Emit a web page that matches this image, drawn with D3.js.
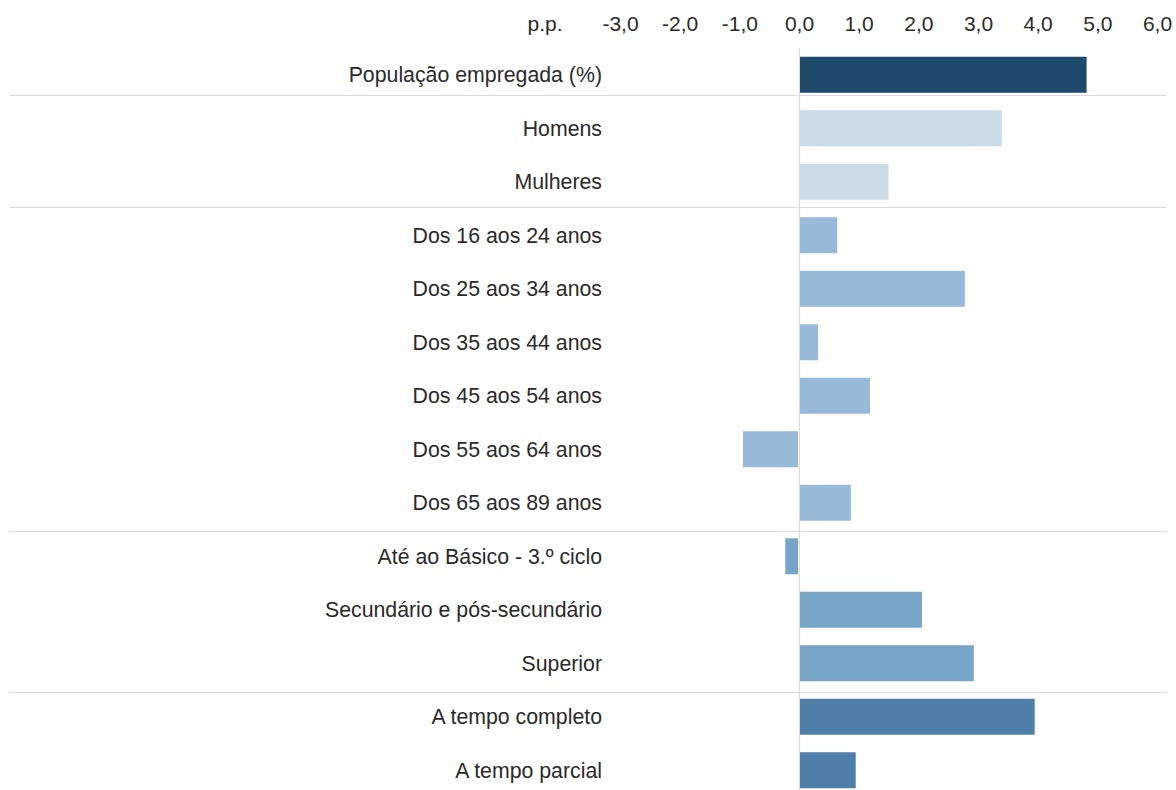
<!DOCTYPE html>
<html>
<head>
<meta charset="utf-8">
<script src="https://cdn.jsdelivr.net/npm/d3@7"></script>
<style>
  body { margin: 0; background: #fff; }
  svg { display: block; font-family: "Liberation Sans", Arial, sans-serif; }
</style>
</head>
<body>
<svg width="1176" height="790"></svg>
<script>
// Data
var categories = [
	"População empregada (%)",
	"Homens", "Mulheres",
	"Dos 16 aos 24 anos", "Dos 25 aos 34 anos", "Dos 35 aos 44 anos",
	"Dos 45 aos 54 anos", "Dos 55 aos 64 anos", "Dos 65 aos 89 anos",
	"Até ao Básico - 3.º ciclo", "Secundário e pós-secundário", "Superior",
	"A tempo completo", "A tempo parcial"
];
var values = [4.82, 3.4, 1.5, 0.64, 2.78, 0.32, 1.19, -0.94, 0.87, -0.23, 2.06, 2.93, 3.95, 0.95];
var groups = ["total", "sexo", "sexo", "idade", "idade", "idade", "idade", "idade", "idade",
	"escolaridade", "escolaridade", "escolaridade", "regime", "regime"];
var tickValues = [-3, -2, -1, 0, 1, 2, 3, 4, 5, 6];
var unitLabel = "p.p.";

var groupColor = {
	total: "#1e4a6b",
	sexo: "#cbdbe8",
	idade: "#98bad8",
	escolaridade: "#76a5c7",
	regime: "#4f7fa9"
};

// where each group separator sits inside the gap below the last bar of a group
var sepShift = [0.15, 0.42, 0.59, 0.63];

var svg = d3.select("svg"),
	w = +svg.attr("width"),
	h = +svg.attr("height");

var x = d3.scaleLinear().domain([-3, 6]).range([620, 1157]);
var y = d3.scaleBand().domain(categories).range([48, 797]).paddingInner(0.327).paddingOuter(0.1635);

var rows = categories.map(function(c, i) { return {cat: c, value: values[i], group: groups[i]}; });

// Separators between groups
var seps = rows.filter(function(d, i) { return i < rows.length - 1 && groups[i + 1] != d.group; });
function sepY(d, i) {
	var gap = y.step() - y.bandwidth();
	return Math.round(y(d.cat) + y.bandwidth() + gap * sepShift[i]) + 0.5;
}
svg.append("g")
	.selectAll("line")
	.data(seps).enter()
	.append("line")
	.attr("x1", 10)
	.attr("x2", 1166)
	.attr("y1", sepY)
	.attr("y2", sepY)
	.attr("stroke", "#dadada")
	.attr("stroke-width", 1.2);

// Zero line
svg.append("line")
	.attr("x1", Math.round(x(0)) + 0.5)
	.attr("x2", Math.round(x(0)) + 0.5)
	.attr("y1", 48)
	.attr("y2", h)
	.attr("stroke", "#dadada")
	.attr("stroke-width", 1.2);

// Bars
svg.append("g")
	.selectAll("rect")
	.data(rows).enter()
	.append("rect")
	.attr("x", function(d) { return x(Math.min(0, d.value)) + (d.value > 0 ? 1 : 0); })
	.attr("y", function(d) { return y(d.cat); })
	.attr("width", function(d) { return Math.abs(x(d.value) - x(0)) - 1; })
	.attr("height", y.bandwidth())
	.attr("fill", function(d) { return groupColor[d.group]; });

// Category labels
svg.append("g")
	.selectAll("text")
	.data(rows).enter()
	.append("text")
	.attr("x", 602)
	.attr("y", function(d) { return y(d.cat) + y.bandwidth() / 2; })
	.attr("dy", "0.36em")
	.attr("text-anchor", "end")
	.attr("font-size", 21.3)
	.attr("fill", "#2a2a2a")
	.text(function(d) { return d.cat; });

// Top axis
var fmt = function(v) { return d3.format(".1f")(v).replace(".", ",").replace("−", "-"); };
var axis = svg.append("g")
	.attr("transform", "translate(0,31)")
	.call(d3.axisTop(x).tickValues(tickValues).tickFormat(fmt).tickSize(0).tickPadding(0));
axis.select(".domain").remove();
axis.selectAll("text")
	.attr("font-size", 21)
	.attr("font-family", "Liberation Sans, Arial, sans-serif")
	.attr("fill", "#2a2a2a")
	.attr("dy", 0);

svg.append("text")
	.attr("x", 545)
	.attr("y", 31)
	.attr("text-anchor", "middle")
	.attr("font-size", 21)
	.attr("fill", "#2a2a2a")
	.text(unitLabel);
</script>
</body>
</html>
